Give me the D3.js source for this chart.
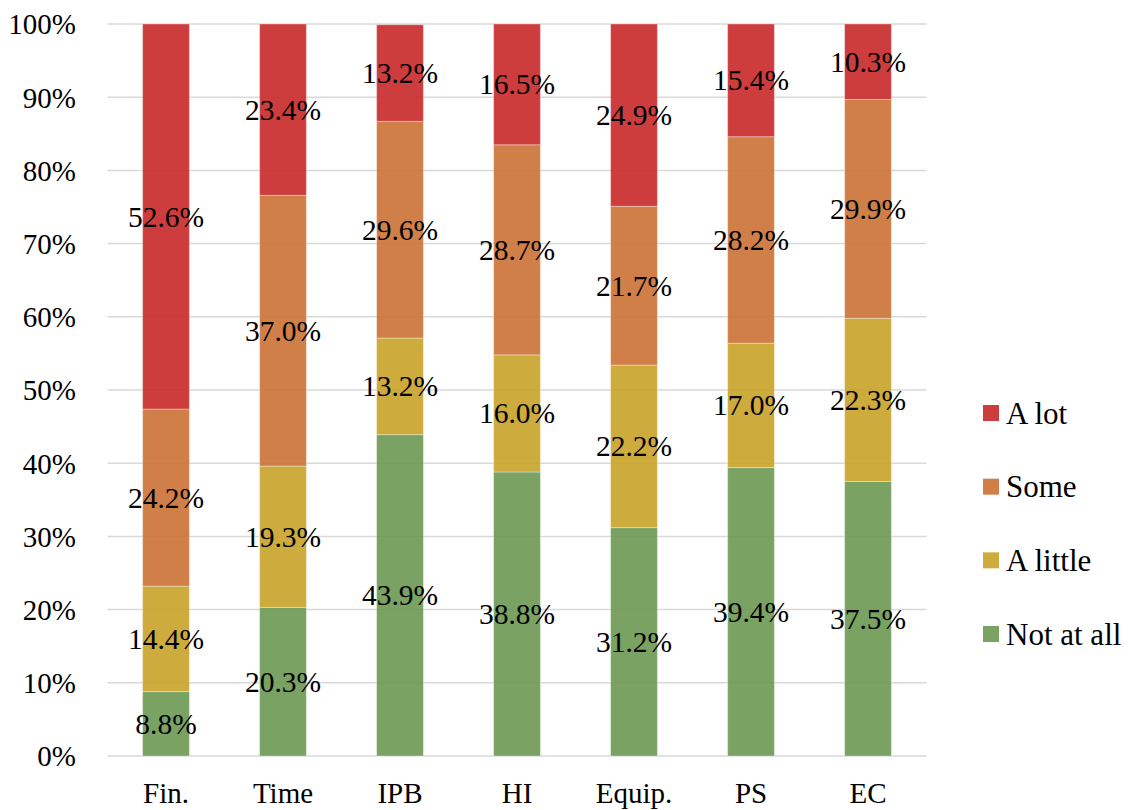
<!DOCTYPE html>
<html>
<head>
<meta charset="utf-8">
<script src="https://cdn.jsdelivr.net/npm/d3@7"></script>
<style>
  html, body { margin: 0; padding: 0; background: #fff; }
  svg text { font-family: "Liberation Serif", "Times New Roman", Tinos, "DejaVu Serif", serif; fill: #000; }
</style>
</head>
<body>
<svg id="chart" width="1129" height="810"></svg>
<script>
// Categories along the x axis
const categories = ["Fin.", "Time", "IPB", "HI", "Equip.", "PS", "EC"];

// Response levels, bottom to top in each stack
const levels = ["Not at all", "A little", "Some", "A lot"];

// Share of responses (%) per level for each category
const notAtAll = [8.8, 20.3, 43.9, 38.8, 31.2, 39.4, 37.5];
const aLittle  = [14.4, 19.3, 13.2, 16.0, 22.2, 17.0, 22.3];
const some     = [24.2, 37.0, 29.6, 28.7, 21.7, 28.2, 29.9];
const aLot     = [52.6, 23.4, 13.2, 16.5, 24.9, 15.4, 10.3];

const yTicks = [0, 10, 20, 30, 40, 50, 60, 70, 80, 90, 100];

const FONT = '"Liberation Serif", "Times New Roman", Tinos, "DejaVu Serif", serif';

const colors = {
  "Not at all": "#6f9a55",
  "A little": "#c9a42c",
  "Some": "#cd7438",
  "A lot": "#c92c2c"
};

const rows = categories.map((c, i) => ({
  category: c,
  "Not at all": notAtAll[i],
  "A little": aLittle[i],
  "Some": some[i],
  "A lot": aLot[i]
}));

const svg = d3.select("#chart");
const margin = { left: 107.5, right: 1129 - 926.5, top: 24, bottom: 810 - 756 };

const x = d3.scaleBand()
  .domain(categories)
  .range([margin.left, 1129 - margin.right])
  .paddingInner(0.6)
  .paddingOuter(0.3);

const y = d3.scaleLinear().domain([0, 100]).range([756, 24]);

// Horizontal gridlines
svg.append("g")
  .selectAll("line")
  .data(yTicks)
  .join("line")
  .attr("x1", margin.left)
  .attr("x2", 1129 - margin.right)
  .attr("y1", d => y(d))
  .attr("y2", d => y(d))
  .attr("stroke", "#d9d9d9")
  .attr("stroke-width", 1.5);

// Y axis tick labels
const yAxis = d3.axisLeft(y).tickValues(yTicks).tickFormat(d => d + "%").tickSize(0).tickPadding(0);
const gy = svg.append("g").attr("transform", "translate(76,0)").call(yAxis)
  .attr("font-family", FONT).attr("font-size", 29);
gy.select(".domain").remove();
gy.selectAll("text")
  .attr("dy", "0.34em")
  .attr("fill", "#000");

// X axis category labels
const xAxis = d3.axisBottom(x).tickSize(0).tickPadding(0);
const gx = svg.append("g").attr("transform", "translate(0,756)").call(xAxis)
  .attr("font-family", FONT).attr("font-size", 29);
gx.select(".domain").remove();
gx.selectAll("text")
  .attr("y", 47)
  .attr("dy", 0)
  .attr("fill", "#000");

// Stacked bars
const stack = d3.stack().keys(levels);
const series = stack(rows);

const layers = svg.append("g")
  .selectAll("g")
  .data(series)
  .join("g")
  .attr("fill", d => colors[d.key]);

layers.selectAll("rect")
  .data(d => d)
  .join("rect")
  .attr("x", d => x(d.data.category))
  .attr("width", x.bandwidth())
  .attr("y", d => y(d[1]))
  .attr("height", d => y(d[0]) - y(d[1]))
  .attr("fill-opacity", 0.92)
  .attr("stroke", "#ffffff")
  .attr("stroke-opacity", 0.35)
  .attr("stroke-width", 1);

// Value labels centred in each segment
const labelGroup = svg.append("g").attr("font-family", FONT).attr("font-size", 29.5);
series.forEach(s => {
  labelGroup.selectAll(null)
    .data(s)
    .join("text")
    .attr("x", d => x(d.data.category) + x.bandwidth() / 2)
    .attr("y", d => y((d[0] + d[1]) / 2))
    .attr("dy", "0.34em")
    .attr("text-anchor", "middle")
    .text(d => d.data[s.key].toFixed(1) + "%");
});

// Legend, top entry is the top of the stack
const legendItems = levels.slice().reverse();
const legend = svg.append("g").attr("transform", "translate(983,0)")
  .attr("font-family", FONT).attr("font-size", 31);
const ly = d3.scalePoint().domain(legendItems).range([413, 634]);
legend.selectAll("rect")
  .data(legendItems)
  .join("rect")
  .attr("x", 0)
  .attr("y", d => ly(d) - 8)
  .attr("width", 16)
  .attr("height", 16)
  .attr("fill", d => colors[d])
  .attr("fill-opacity", 0.92);
legend.selectAll("text")
  .data(legendItems)
  .join("text")
  .attr("x", 23)
  .attr("y", d => ly(d))
  .attr("dy", "0.34em")
  .text(d => d);
</script>
</body>
</html>
